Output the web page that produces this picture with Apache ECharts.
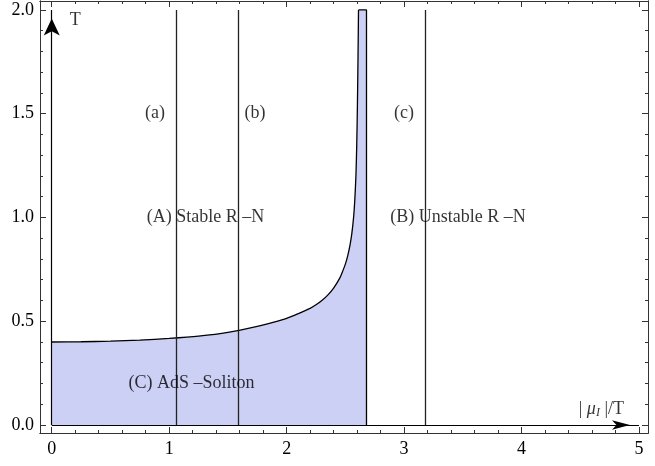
<!DOCTYPE html>
<html><head><meta charset="utf-8">
<script src="https://cdn.jsdelivr.net/npm/echarts@6/dist/echarts.min.js"></script>
<style>html,body{margin:0;padding:0;background:#fff}#c{width:655px;height:466px}</style>
</head><body><div id="c"></div>
<script>
// ---- data ----
const xTickValues = [0, 1, 2, 3, 4, 5];
const yTickValues = [0, 0.5, 1, 1.5, 2];
const xMinorValues = [0.2,0.4,0.6,0.8,1.2,1.4,1.6,1.8,2.2,2.4,2.6,2.8,3.2,3.4,3.6,3.8,4.2,4.4,4.6,4.8];
const yMinorValues = [0.1,0.2,0.3,0.4,0.6,0.7,0.8,0.9,1.1,1.2,1.3,1.4,1.6,1.7,1.8,1.9];
// boundary curve T(|mu_I|/T) of the AdS-soliton region
const curveX = [0, 0.25, 0.5, 0.75, 1.0, 1.25, 1.5, 1.75, 1.9, 2.0, 2.1, 2.2, 2.25, 2.3, 2.35, 2.4, 2.45, 2.48, 2.5, 2.52, 2.54, 2.555, 2.57, 2.58, 2.59, 2.597, 2.603, 2.608, 2.612];
const curveT = [0.400, 0.401, 0.404, 0.409, 0.417, 0.428, 0.446, 0.475, 0.497, 0.514, 0.537, 0.562, 0.579, 0.600, 0.626, 0.660, 0.705, 0.745, 0.775, 0.815, 0.868, 0.922, 1.000, 1.080, 1.200, 1.350, 1.550, 1.780, 2.000];
const regionRightX = 2.68;   // right edge of the shaded region
const regionTopT = 2.0;
const verticalLinesX = [1.06, 1.59, 3.18];   // lines (a), (b), (c)
const lineTopT = 2.0;
const axisArrowXEnd = 5.0;
const axisArrowTEnd = 2.0;
const annotationTexts = ['(a)', '(b)', '(c)', '(A) Stable R \u2013N', '(B) Unstable R \u2013N', '(C) AdS \u2013Soliton', 'T', '| {m|\u03bc}{s|I} |/T'];
const annotationAt = [[0.88, 1.5], [1.73, 1.5], [3.0, 1.5], [1.31, 1.0], [3.46, 1.0], [1.19, 0.2], [0.2, 1.95], [4.68, 0.075]];

// ---- layout ----
const xMin = -0.1, xMax = 5.077;
const yMin = -0.0386, yMax = 2.043;
const font = "'Liberation Serif', 'Times New Roman', serif";
const frameColor = '#333';

function mkAxis(dim, position, values, len, labels) {
  return {
    type: 'value', position: position, min: dim === 'x' ? xMin : yMin, max: dim === 'x' ? xMax : yMax,
    axisLine: { show: true, onZero: false, lineStyle: { color: frameColor, width: 1 } },
    axisTick: { show: true, inside: true, length: len, customValues: values, lineStyle: { color: frameColor, width: 1 } },
    axisLabel: labels ? {
      show: true, customValues: values, fontFamily: font, fontSize: 18, color: '#000', margin: dim === 'x' ? 7 : 6,
      formatter: v => '{t|' + (dim === 'x' ? String(Math.round(v)) : Number(v).toFixed(1)) + '}',
      rich: { t: { fontFamily: font, fontSize: 18, color: '#000' } }
    } : { show: false },
    splitLine: { show: false }, minorTick: { show: false }
  };
}

const regionData = curveX.map((x, i) => [x, curveT[i]]).concat([[regionRightX, regionTopT], [regionRightX, 0]]);
const curveData = curveX.map((x, i) => [x, curveT[i]]);
const edgeData = [[curveX[curveX.length - 1], regionTopT], [regionRightX, regionTopT], [regionRightX, 0]];

function arrowSeries(from, to, size) {
  return {
    type: 'line', data: [], z: 4,
    markLine: {
      silent: true, symbol: ['none', 'arrow'], symbolSize: size, symbolOffset: [[0, 0], [0, size[1] / 2]],
      label: { show: false }, animation: false,
      lineStyle: { color: '#000', width: 1.2, type: 'solid' },
      data: [[{ coord: from }, { coord: to }]]
    }
  };
}

const chart = echarts.init(document.getElementById('c'), null, { renderer: 'canvas' });
chart.setOption({
  animation: false,
  backgroundColor: '#fff',
  textStyle: { fontFamily: font },
  grid: { left: 40, right: 7, top: 1, bottom: 33, containLabel: false },
  xAxis: [mkAxis('x', 'bottom', xTickValues, 6, true), mkAxis('x', 'bottom', xMinorValues, 3, false),
          mkAxis('x', 'top', xTickValues, 6, false), mkAxis('x', 'top', xMinorValues, 3, false)],
  yAxis: [mkAxis('y', 'left', yTickValues, 6, true), mkAxis('y', 'left', yMinorValues, 3, false),
          mkAxis('y', 'right', yTickValues, 6, false), mkAxis('y', 'right', yMinorValues, 3, false)],
  series: [
    {
      type: 'line', data: regionData, showSymbol: false, symbol: 'none', z: 2,
      lineStyle: { width: 0, opacity: 0 },
      areaStyle: { color: '#ccd0f5', opacity: 1, origin: 'auto' }
    },
    {
      type: 'line', data: curveData, showSymbol: false, symbol: 'none', z: 3, smooth: 0.25,
      lineStyle: { color: '#000', width: 1.3 }
    },
    {
      type: 'line', data: edgeData, showSymbol: false, symbol: 'none', z: 3,
      lineStyle: { color: '#000', width: 1.3 }
    },
    {
      type: 'line', data: [], z: 3,
      markLine: {
        silent: true, symbol: ['none', 'none'], label: { show: false },
        lineStyle: { color: '#222', width: 1.3, type: 'solid' },
        data: verticalLinesX.map(x => [{ coord: [x, 0] }, { coord: [x, lineTopT] }])
      }
    },
    arrowSeries([0, 0], [axisArrowXEnd, 0], [7, 18]),
    arrowSeries([0, 0], [0, axisArrowTEnd], [12, 17]),
    {
      type: 'scatter', symbolSize: 0, z: 5, silent: true,
      data: annotationAt.map((p, i) => ({ value: p, name: annotationTexts[i] })),
      label: {
        show: true, position: 'inside', formatter: p => p.name, color: '#000',
        fontFamily: font, fontSize: 18,
        rich: {
          m: { fontFamily: font, fontSize: 18, fontStyle: 'italic', color: '#000' },
          s: { fontFamily: font, fontSize: 12, fontStyle: 'italic', color: '#000', verticalAlign: 'bottom', lineHeight: 8 }
        }
      }
    }
  ]
});
</script></body></html>
